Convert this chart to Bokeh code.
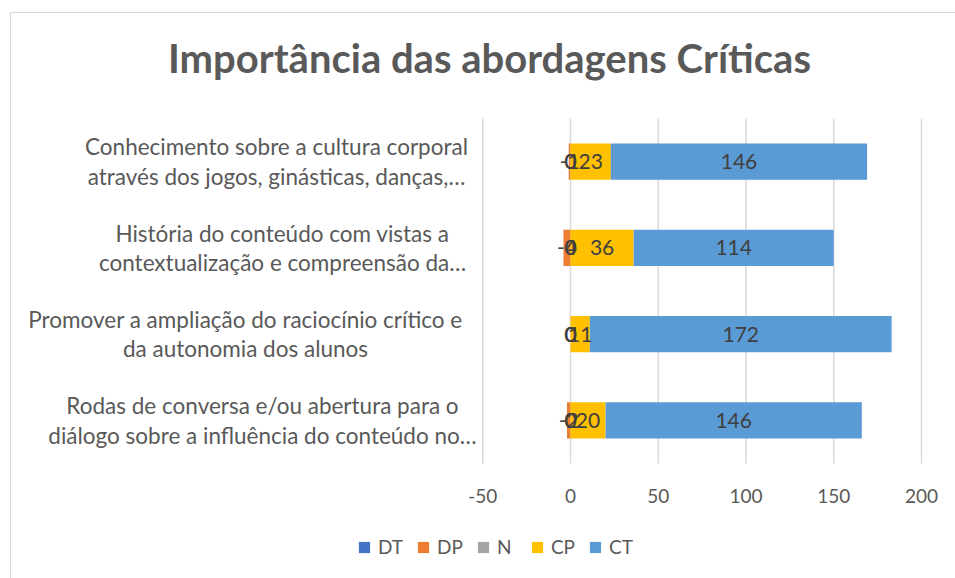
from bokeh.plotting import figure
from bokeh.models import ColumnDataSource, LabelSet, Label, Legend, LegendItem, Range1d
from bokeh.core.properties import value
from bokeh.embed import file_html
from bokeh.resources import INLINE

title = "Importância das abordagens Críticas"
categories = [
    "Conhecimento sobre a cultura corporal\natravés dos jogos, ginásticas, danças,…",
    "História do conteúdo com vistas a\ncontextualização e compreensão da…",
    "Promover a ampliação do raciocínio crítico e\nda autonomia dos alunos",
    "Rodas de conversa e/ou abertura para o\ndiálogo sobre a influência do conteúdo no…",
]
series = ["DT", "DP", "N", "CP", "CT"]
DT = [0, 0, 0, 0]
DP = [-1, -4, 0, -2]
N = [0, 0, 0, 0]
CP = [23, 36, 11, 20]
CT = [146, 114, 172, 146]
x_ticks = [-50, 0, 50, 100, 150, 200]

values = [DT, DP, N, CP, CT]
colors = ["#4472C4", "#ED7D31", "#A5A5A5", "#FFC000", "#5B9BD5"]
FONT = "Lato"
GREY = "#595959"

W, H = 955, 578
# plot-area geometry in pixels
PX0, PX200 = 570.0, 921.0     # pixel of x=0 and x=200
PT, PB = 118.0, 463.0         # top / bottom of the category area
n = len(categories)
xs = (PX200 - PX0) / 200.0
band = (PB - PT) / n


def xpx(px):
    return (px - PX0) / xs


def ypx(py):
    return (n - 0.5) - (py - PT) / band


p = figure(width=W, height=H, output_backend="svg", toolbar_location=None,
           x_range=Range1d(xpx(0), xpx(W)), y_range=Range1d(ypx(H), ypx(0)),
           min_border=0)
p.outline_line_color = None
p.background_fill_color = "white"
p.border_fill_color = "white"
p.axis.visible = False
p.grid.visible = False

# chart-area border (left and top edges; right/bottom lie outside the picture)
p.line(x=[xpx(10), xpx(10), xpx(W + 5)], y=[ypx(H + 5), ypx(12), ypx(12)],
       line_color="#D9D9D9", line_width=1.2)

ys = [n - 1 - i for i in range(n)]

# gridlines at the tick values
p.segment(x0=x_ticks, x1=x_ticks, y0=[-0.5] * len(x_ticks), y1=[n - 0.5] * len(x_ticks),
          line_color="#D9D9D9", line_width=1.5)

pos = [0] * n
neg = [0] * n
renderers = []
lab_x, lab_y, lab_t = [], [], []
for name, vals, col in zip(series, values, colors):
    left, right = [], []
    for i, v in enumerate(vals):
        if v >= 0:
            l, r = pos[i], pos[i] + v
            pos[i] = r
        else:
            l, r = neg[i] + v, neg[i]
            neg[i] = l
        left.append(l)
        right.append(r)
        lab_x.append((l + r) / 2)
        lab_y.append(ys[i])
        lab_t.append(str(v))
    src = ColumnDataSource(dict(y=ys, left=left, right=right))
    r = p.hbar(y="y", left="left", right="right", height=0.42, source=src,
               fill_color=col, line_color=None)
    renderers.append(r)

lsrc = ColumnDataSource(dict(x=lab_x, y=lab_y, t=lab_t))
p.add_layout(LabelSet(x="x", y="y", text="t", source=lsrc, text_align="center",
                      text_baseline="middle", text_font=value(FONT), text_font_size="21px",
                      text_color="#404040"))

# x tick labels
p.text(x=x_ticks, y=[ypx(495)] * len(x_ticks), text=[str(t) for t in x_ticks],
       text_align="center", text_baseline="middle", text_font=value(FONT),
       text_font_size="19px", text_color=GREY)

# category labels
centers = [276, 282, 245, 262]
for cat, y, cx in zip(categories, ys, centers):
    p.add_layout(Label(x=xpx(cx), y=y, text=cat,
                       text_align="center", text_baseline="middle", text_font=FONT,
                       text_font_size="22.5px", text_color=GREY, text_line_height=1.1))

p.add_layout(Label(x=xpx(489), y=ypx(57), text=title,
                   text_align="center", text_baseline="middle", text_font=FONT,
                   text_font_style="bold", text_font_size="40px", text_color=GREY))

legend = Legend(items=[LegendItem(label=s, renderers=[r]) for s, r in zip(series, renderers)],
                orientation="horizontal", location=(357, 20))
legend.border_line_color = None
legend.background_fill_alpha = 0
legend.label_text_font = FONT
legend.label_text_font_size = "19px"
legend.label_text_color = GREY
legend.glyph_width = 14
legend.glyph_height = 14
legend.spacing = 13
legend.label_standoff = 7
legend.padding = 0
legend.margin = 0
p.add_layout(legend)

open("out.html", "w").write(file_html(p, INLINE))
